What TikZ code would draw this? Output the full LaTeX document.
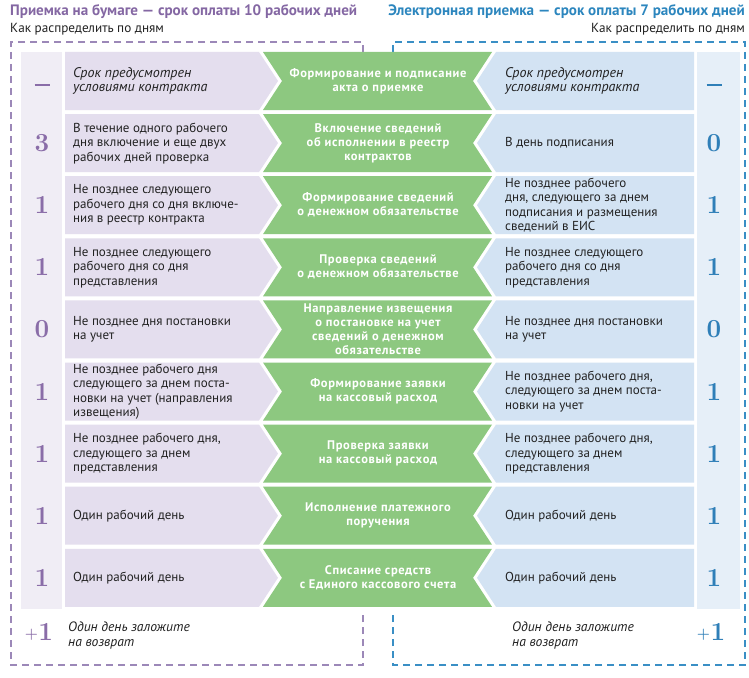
\documentclass[tikz,border=0pt]{standalone}
\usepackage{fontspec}
\setsansfont{PT Sans}
\newfontfamily\gfont{PT Sans}[LetterSpace=5]
\definecolor{purT}{HTML}{8467A3}
\definecolor{bluT}{HTML}{2C86BE}
\definecolor{lavbox}{HTML}{E4DEEE}
\definecolor{lavstrip}{HTML}{F0EDF5}
\definecolor{blubox}{HTML}{D3E3F3}
\definecolor{blustrip}{HTML}{E6EFF8}
\definecolor{grn}{HTML}{8DC880}
\definecolor{numP}{HTML}{8A6DA8}
\definecolor{numB}{HTML}{2F7FB8}
\definecolor{dashP}{HTML}{9C88B8}
\definecolor{dashB}{HTML}{3A8FC5}
\definecolor{txt}{HTML}{222222}
\tikzset{
  bodytxt/.style={anchor=west, align=left, inner sep=0pt, text=txt,
    font=\sffamily\fontsize{13}{14.5}\selectfont},
  itxt/.style={anchor=base west, inner sep=0pt, text=txt, font=\sffamily\itshape\fontsize{13.6}{16}\selectfont},
  gtxt/.style={align=center, inner sep=0pt, text=white,
    font=\gfont\bfseries\fontsize{12.5}{14}\selectfont},
  numL/.style={inner sep=0pt, text=numP, font=\rmfamily\bfseries\fontsize{26}{26}\selectfont},
  numR/.style={numL, text=numB},
  frameP/.style={draw=dashP, line width=1.3pt, dash pattern=on 7pt off 5pt},
  frameB/.style={draw=dashB, line width=1.3pt, dash pattern=on 7pt off 5pt},
}
\newcommand\tabrow[6]{%
  \pgfmathsetmacro\yt{52+62.1*(#1-1)}%
  \pgfmathsetmacro\yb{\yt+58}%
  \pgfmathsetmacro\ym{\yt+29}%
  \fill[lavbox] (65,\yt) -- (259,\yt) -- (278,\ym) -- (259,\yb) -- (65,\yb) -- cycle;
  \fill[grn] (263,\yt) -- (492,\yt) -- (473,\ym) -- (492,\yb) -- (263,\yb) -- (282,\ym) -- cycle;
  \fill[blubox] (496,\yt) -- (694,\yt) -- (694,\yb) -- (496,\yb) -- (477,\ym) -- cycle;
  \node[numL] (nl#1) at (42,\ym) {#2};
  \node[bodytxt] (lt#1) at (73,\ym) {#3};
  \node[gtxt] (gt#1) at (378,\ym) {#4};
  \node[bodytxt] (rt#1) at (505,\ym) {#5};
  \node[numR] (nr#1) at (714,\ym) {#6};
}
\newcommand\shortdash{\raisebox{-5pt}[0pt][0pt]{\rule{15pt}{2.4pt}}}
\newcommand\plusone{{\fontsize{15}{15}\selectfont\raisebox{2pt}{+}}\kern0.5pt 1}
\begin{document}
\begin{tikzpicture}[x=1pt,y=-1pt]
\useasboundingbox (0,0) rectangle (749,677);
\fill[white] (0,0) rectangle (749,677);
% titles
\node[anchor=base west, inner sep=0pt, text=purT, font=\sffamily\bfseries\fontsize{15.1}{16}\selectfont] (tl) at (10,16) {Приемка на бумаге — срок оплаты 10 рабочих дней};
\node[anchor=base west, inner sep=0pt, text=txt, font=\sffamily\fontsize{13.2}{14}\selectfont] (sl) at (10,33) {Как распределить по дням};
\node[anchor=base east, inner sep=0pt, text=bluT, font=\sffamily\bfseries\fontsize{15.1}{16}\selectfont] (tr) at (745,16) {Электронная приемка — срок оплаты 7 рабочих дней};
\node[anchor=base east, inner sep=0pt, text=txt, font=\sffamily\fontsize{13.2}{14}\selectfont] (sr) at (745,33) {Как распределить по дням};
% frames
\draw[frameP] (363,52) -- (363,42) -- (11,42) -- (11,665) -- (363,665) -- (363,612);
\draw[frameB] (393,52) -- (393,42) -- (745,42) -- (745,665) -- (393,665) -- (393,612);
% strips
\fill[lavstrip] (21,52) rectangle (62,609);
\fill[blustrip] (697,52) rectangle (740,609);
% rows
\tabrow{1}{\shortdash}{\itshape\fontsize{14}{15}\selectfont Срок предусмотрен\\\itshape\fontsize{14}{15}\selectfont условиями контракта}{Формирование и подписание\\акта о приемке}{\itshape\fontsize{14}{15}\selectfont Срок предусмотрен\\\itshape\fontsize{14}{15}\selectfont условиями контракта}{\shortdash}
\tabrow{2}{3}{В течение одного рабочего\\дня включение и еще двух\\рабочих дней проверка}{Включение сведений\\об исполнении в реестр\\контрактов}{В день подписания}{0}
\tabrow{3}{1}{Не позднее следующего\\рабочего дня со дня включе-\\ния в реестр контракта}{Формирование сведений\\о денежном обязательстве}{Не позднее рабочего\\дня, следующего за днем\\подписания и размещения\\сведений в ЕИС}{1}
\tabrow{4}{1}{Не позднее следующего\\рабочего дня со дня\\представления}{Проверка сведений\\о денежном обязательстве}{Не позднее следующего\\рабочего дня со дня\\представления}{1}
\tabrow{5}{0}{Не позднее дня постановки\\на учет}{Направление извещения\\о постановке на учет\\сведений о денежном\\обязательстве}{Не позднее дня постановки\\на учет}{0}
\tabrow{6}{1}{Не позднее рабочего дня\\следующего за днем поста-\\новки на учет (направления\\извещения)}{Формирование заявки\\на кассовый расход}{Не позднее рабочего дня,\\следующего за днем поста-\\новки на учет}{1}
\tabrow{7}{1}{Не позднее рабочего дня,\\следующего за днем\\представления}{Проверка заявки\\на кассовый расход}{Не позднее рабочего дня,\\следующего за днем\\представления}{1}
\tabrow{8}{1}{Один рабочий день}{Исполнение платежного\\поручения}{Один рабочий день}{1}
\tabrow{9}{1}{Один рабочий день}{Списание средств\\с Единого кассового счета}{Один рабочий день}{1}
% bottom notes
\node[numL] (pl) at (39,632) {\plusone};
\node[itxt] (bl1) at (68,631) {Один день заложите};
\node[itxt] (bl2) at (68,646) {на возврат};
\node[itxt] (br1) at (512,631) {Один день заложите};
\node[itxt] (br2) at (512,646) {на возврат};
\node[numR] (pr) at (711,632) {\plusone};
\end{tikzpicture}
\end{document}
